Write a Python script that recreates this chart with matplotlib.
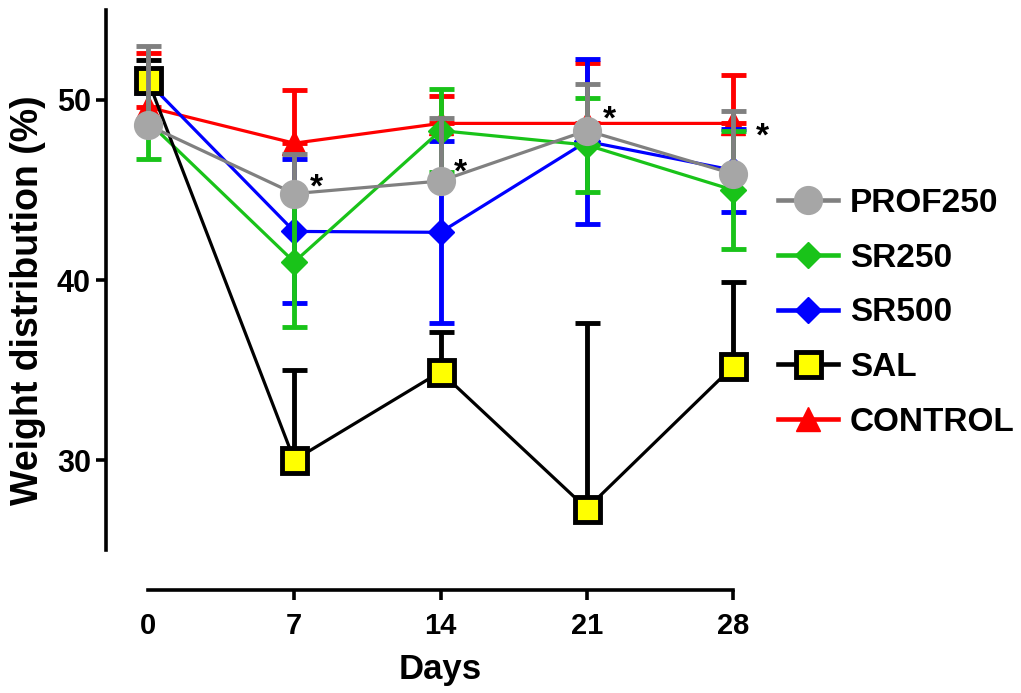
import matplotlib
matplotlib.use("Agg")
import matplotlib.pyplot as plt
from matplotlib.lines import Line2D

plt.rcParams['font.family'] = ['Liberation Sans', 'DejaVu Sans']
plt.rcParams['font.weight'] = 'bold'

# data
days = [0, 7, 14, 21, 28]

prof250 = [48.6, 44.8, 45.5, 48.3, 45.9]
prof250_err = [4.4, 2.2, 3.5, 2.6, 3.5]

sr250 = [48.8, 41.0, 48.3, 47.5, 45.0]
sr250_err = [2.1, 3.6, 2.3, 2.6, 3.3]

sr500 = [51.0, 42.7, 42.65, 47.7, 46.1]
sr500_err = [0.6, 4.0, 5.05, 4.6, 2.3]

sal = [51.1, 30.0, 34.9, 27.3, 35.2]
sal_err = [1.1, 5.0, 2.2, 10.3, 4.7]

control = [49.6, 47.6, 48.7, 48.7, 48.7]
control_err = [3.0, 2.95, 1.5, 3.35, 2.7]

# significance marks (x, y)
star_x = [8.05, 14.95, 22.1, 29.4]
star_y = [45.1, 45.95, 48.9, 47.95]

fig = plt.figure(figsize=(10.21, 6.93), dpi=100)
ax = fig.add_axes([0.104, 0.1486, 0.6549, 0.837])

lw = 2.3
elw = 3.5
cap = 9

def draw(y, err, both, line_c, err_c, marker, ms, mfc, mec, mew, z):
    if both:
        yerr = [err, err]
    else:
        yerr = [[0] * len(err), err]
    ax.errorbar(days, y, yerr=yerr, fmt='none', ecolor=err_c, elinewidth=elw,
                capsize=cap, capthick=elw, zorder=z)
    ax.plot(days, y, color=line_c, lw=lw, marker=marker, ms=ms, mfc=mfc,
            mec=mec, mew=mew, zorder=z + 0.5)

# bottom to top
draw(control, control_err, False, '#ff0000', '#ff0000', '^', 17, '#ff0000', '#ff0000', 1, 2)
draw(sr500, sr500_err, True, '#0000ff', '#0000ff', 'D', 13, '#0000ff', '#0000ff', 1, 3)
draw(sr250, sr250_err, True, '#19c319', '#19c319', 'D', 13, '#19c319', '#19c319', 1, 4)
draw(sal, sal_err, False, '#000000', '#000000', 's', 18, '#ffff00', '#000000', 3.5, 5)
draw(prof250, prof250_err, False, '#808080', '#808080', 'o', 20, '#a6a6a6', '#a6a6a6', 1, 6)

for sx, sy in zip(star_x, star_y):
    ax.text(sx, sy, '*', fontsize=24, fontweight='bold', ha='center', va='center', zorder=10)

ax.set_xlim(-2, 30)
ax.set_ylim(22.78, 55)
ax.set_xticks(days)
ax.set_yticks([30, 40, 50])

for s in ['top', 'right']:
    ax.spines[s].set_visible(False)
ax.spines['left'].set_bounds(25, 55)
ax.spines['bottom'].set_bounds(0, 28)
for s in ['left', 'bottom']:
    ax.spines[s].set_linewidth(2.6)
ax.tick_params(width=2.6, length=7, labelsize=21)
ax.tick_params(axis='x', pad=9)
ax.tick_params(axis='y', pad=4, labelsize=22)
ax.xaxis.get_major_ticks()[0].tick1line.set_visible(False)

ax.set_xlabel('Days', fontsize=25, fontweight='bold', labelpad=9)
ax.set_ylabel('Weight distribution (%)', fontsize=27, fontweight='bold', labelpad=8)

handles = [
    Line2D([], [], color='#808080', lw=lw + 1, marker='o', ms=20, mfc='#a6a6a6', mec='#a6a6a6'),
    Line2D([], [], color='#19c319', lw=lw + 1, marker='D', ms=13, mfc='#19c319', mec='#19c319'),
    Line2D([], [], color='#0000ff', lw=lw + 1, marker='D', ms=13, mfc='#0000ff', mec='#0000ff'),
    Line2D([], [], color='#000000', lw=lw + 1, marker='s', ms=18, mfc='#ffff00', mec='#000000', mew=3.5),
    Line2D([], [], color='#ff0000', lw=lw + 1, marker='^', ms=17, mfc='#ff0000', mec='#ff0000'),
]
labels = ['PROF250', 'SR250', 'SR500', 'SAL', 'CONTROL']
fig.legend(handles, labels, loc='upper left', bbox_to_anchor=(778 / 1021, 1 - 188 / 693),
           frameon=False, prop=dict(weight='bold', size=24), handlelength=1.8,
           handletextpad=0.35, labelspacing=0.71, borderpad=0, borderaxespad=0)

fig.savefig('out.png', dpi=100)
